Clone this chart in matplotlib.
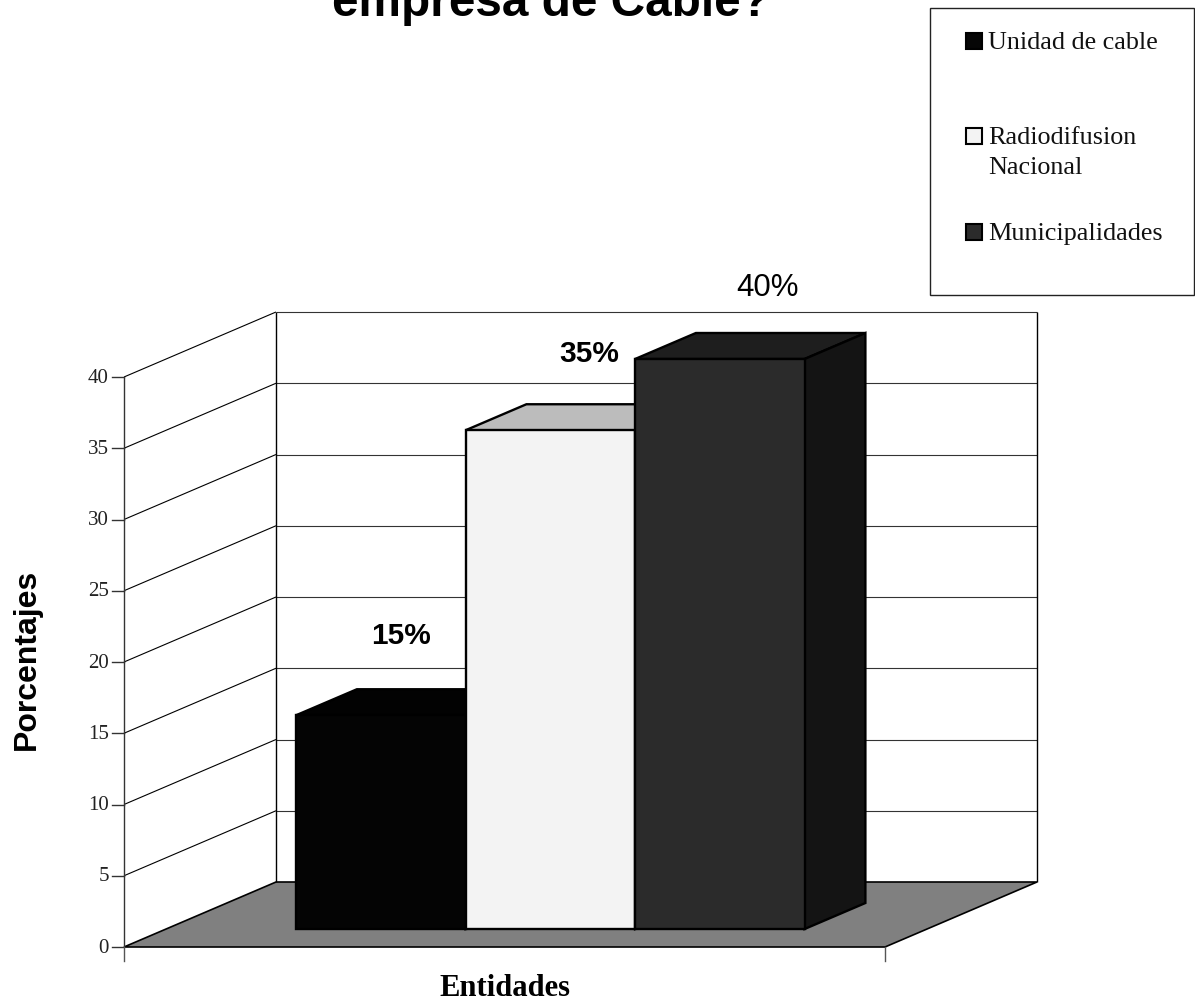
import matplotlib
matplotlib.use("Agg")
import matplotlib.pyplot as plt
from matplotlib.patches import Polygon, Rectangle

categories = ["Unidad de cable", "Radiodifusion\nNacional", "Municipalidades"]
values = [15, 35, 40]
value_labels = ["15%", "35%", "40%"]
y_ticks = [0, 5, 10, 15, 20, 25, 30, 35, 40]

# colours of each bar: front, top, side
front_cols = ["#040404", "#f3f3f3", "#2b2b2b"]
top_cols = ["#020202", "#bcbcbc", "#1e1e1e"]
side_cols = ["#020202", "#9a9a9a", "#141414"]
legend_cols = ["#060606", "#f3f3f3", "#2b2b2b"]

W, H = 1195, 1002
fig = plt.figure(figsize=(W / 100, H / 100), dpi=100, facecolor="white")

# front plane of the chart: x in bar widths, y in percent
left, right, bottom, top = 124, 885, 947, 377
ax = fig.add_axes([left / W, 1 - bottom / H, (right - left) / W, (bottom - top) / H])
bar_w = 169.5
ax.set_xlim(0, (right - left) / bar_w)
ax.set_ylim(0, 40)
ax.axis("off")

ymax = 40
xmax = (right - left) / bar_w
dep_x = 152 / bar_w
dep_y = 65 / ((bottom - top) / 40)


def proj(x, y, d):
    # oblique projection, d=0 front plane, d=1 back wall
    return (x + d * dep_x, y + d * dep_y)


def face(pts, fc, ec="black", lw=1.7, z=2):
    ax.add_patch(Polygon([proj(*p) for p in pts], closed=True, facecolor=fc,
                         edgecolor=ec, linewidth=lw, clip_on=False, zorder=z,
                         joinstyle="miter"))


def line(p, q, color="black", lw=0.8, z=1):
    a, b = proj(*p), proj(*q)
    ax.plot([a[0], b[0]], [a[1], b[1]], color=color, lw=lw, clip_on=False, zorder=z,
            solid_capstyle="butt")


# walls and floor
face([(0, 0, 0), (xmax, 0, 0), (xmax, 0, 1), (0, 0, 1)], "#808080", lw=1.2, z=1)
for v in y_ticks[1:]:
    line((0, v, 0), (0, v, 1))
    line((0, v, 1), (xmax, v, 1), color="#333333")
line((0, 0, 1), (0, ymax, 1), lw=1.0)
line((xmax, 0, 1), (xmax, ymax, 1), lw=1.0)
line((0, 0, 0), (0, ymax, 0), color="#333333", lw=1.0)

# ticks
tick_x = 12 / bar_w
for v in y_ticks:
    ax.plot([-tick_x, 0], [v, v], color="#333333", lw=1.0, clip_on=False)
    ax.text(-15 / bar_w, v - 0.08, str(v), ha="right", va="center", family="Liberation Serif",
            fontsize=15, color="#222222")
for xt in [0, xmax]:
    ax.plot([xt, xt], [0, -1], color="#555555", lw=1.0, clip_on=False)

# bars
x0 = 130 / bar_w
d0, d1 = 18 / 65, 44 / 65
for i, v in enumerate(values):
    xa, xb = x0 + i, x0 + i + 1
    z = 3 + i
    face([(xa, v, d0), (xb, v, d0), (xb, v, d1), (xa, v, d1)], top_cols[i], z=z)
    face([(xb, 0, d0), (xb, 0, d1), (xb, v, d1), (xb, v, d0)], side_cols[i], z=z)
    face([(xa, 0, d0), (xb, 0, d0), (xb, v, d0), (xa, v, d0)], front_cols[i], z=z + 0.5)

# value labels, offsets from the front top corner of each bar
label_dx = [0.868, 0.978, 1.028]
label_dy = [6.85, 6.6, 6.25]
label_size = [21.5, 21.5, 22.5]
label_w = ["bold", "bold", "normal"]
for i, v in enumerate(values):
    px = x0 + i + label_dx[i]
    ax.text(px, v + label_dy[i], value_labels[i], ha="center", va="center",
            family="Liberation Sans", fontsize=label_size[i], fontweight=label_w[i],
            color="black", zorder=10, clip_on=False)

# texts in figure pixels
fig.text(551 / W, 1 - 16 / H, "empresa de Cable?", ha="center", va="baseline",
         family="Liberation Sans", fontweight="bold", fontsize=34.4)
fig.text(27 / W, 1 - 659 / H, "Porcentajes", rotation=90, ha="center", va="center",
         family="Liberation Sans", fontweight="bold", fontsize=23)
fig.text(505 / W, 1 - 988 / H, "Entidades", ha="center", va="center",
         family="Liberation Serif", fontweight="bold", fontsize=22)

# legend box
fig.add_artist(Rectangle((929.5 / W, 1 - 295 / H), 264 / W, 287.5 / H, transform=fig.transFigure,
                         facecolor="white", edgecolor="#222222", linewidth=1.0))
legend_y = [41, 136, 232]
for name, c, y in zip(categories, legend_cols, legend_y):
    fig.add_artist(Rectangle((965.5 / W, 1 - (y + 8) / H), 16 / W, 16 / H,
                             transform=fig.transFigure, facecolor=c,
                             edgecolor="black", linewidth=1.5))
    fig.text(988 / W, 1 - (y + 8) / H, name.split("\n")[0], ha="left", va="baseline",
             family="Liberation Serif", fontsize=18.8, color="#111111")
    if "\n" in name:
        fig.text(988 / W, 1 - (y + 38) / H, name.split("\n")[1], ha="left", va="baseline",
                 family="Liberation Serif", fontsize=18.8, color="#111111")

fig.savefig("out.png", dpi=100)
